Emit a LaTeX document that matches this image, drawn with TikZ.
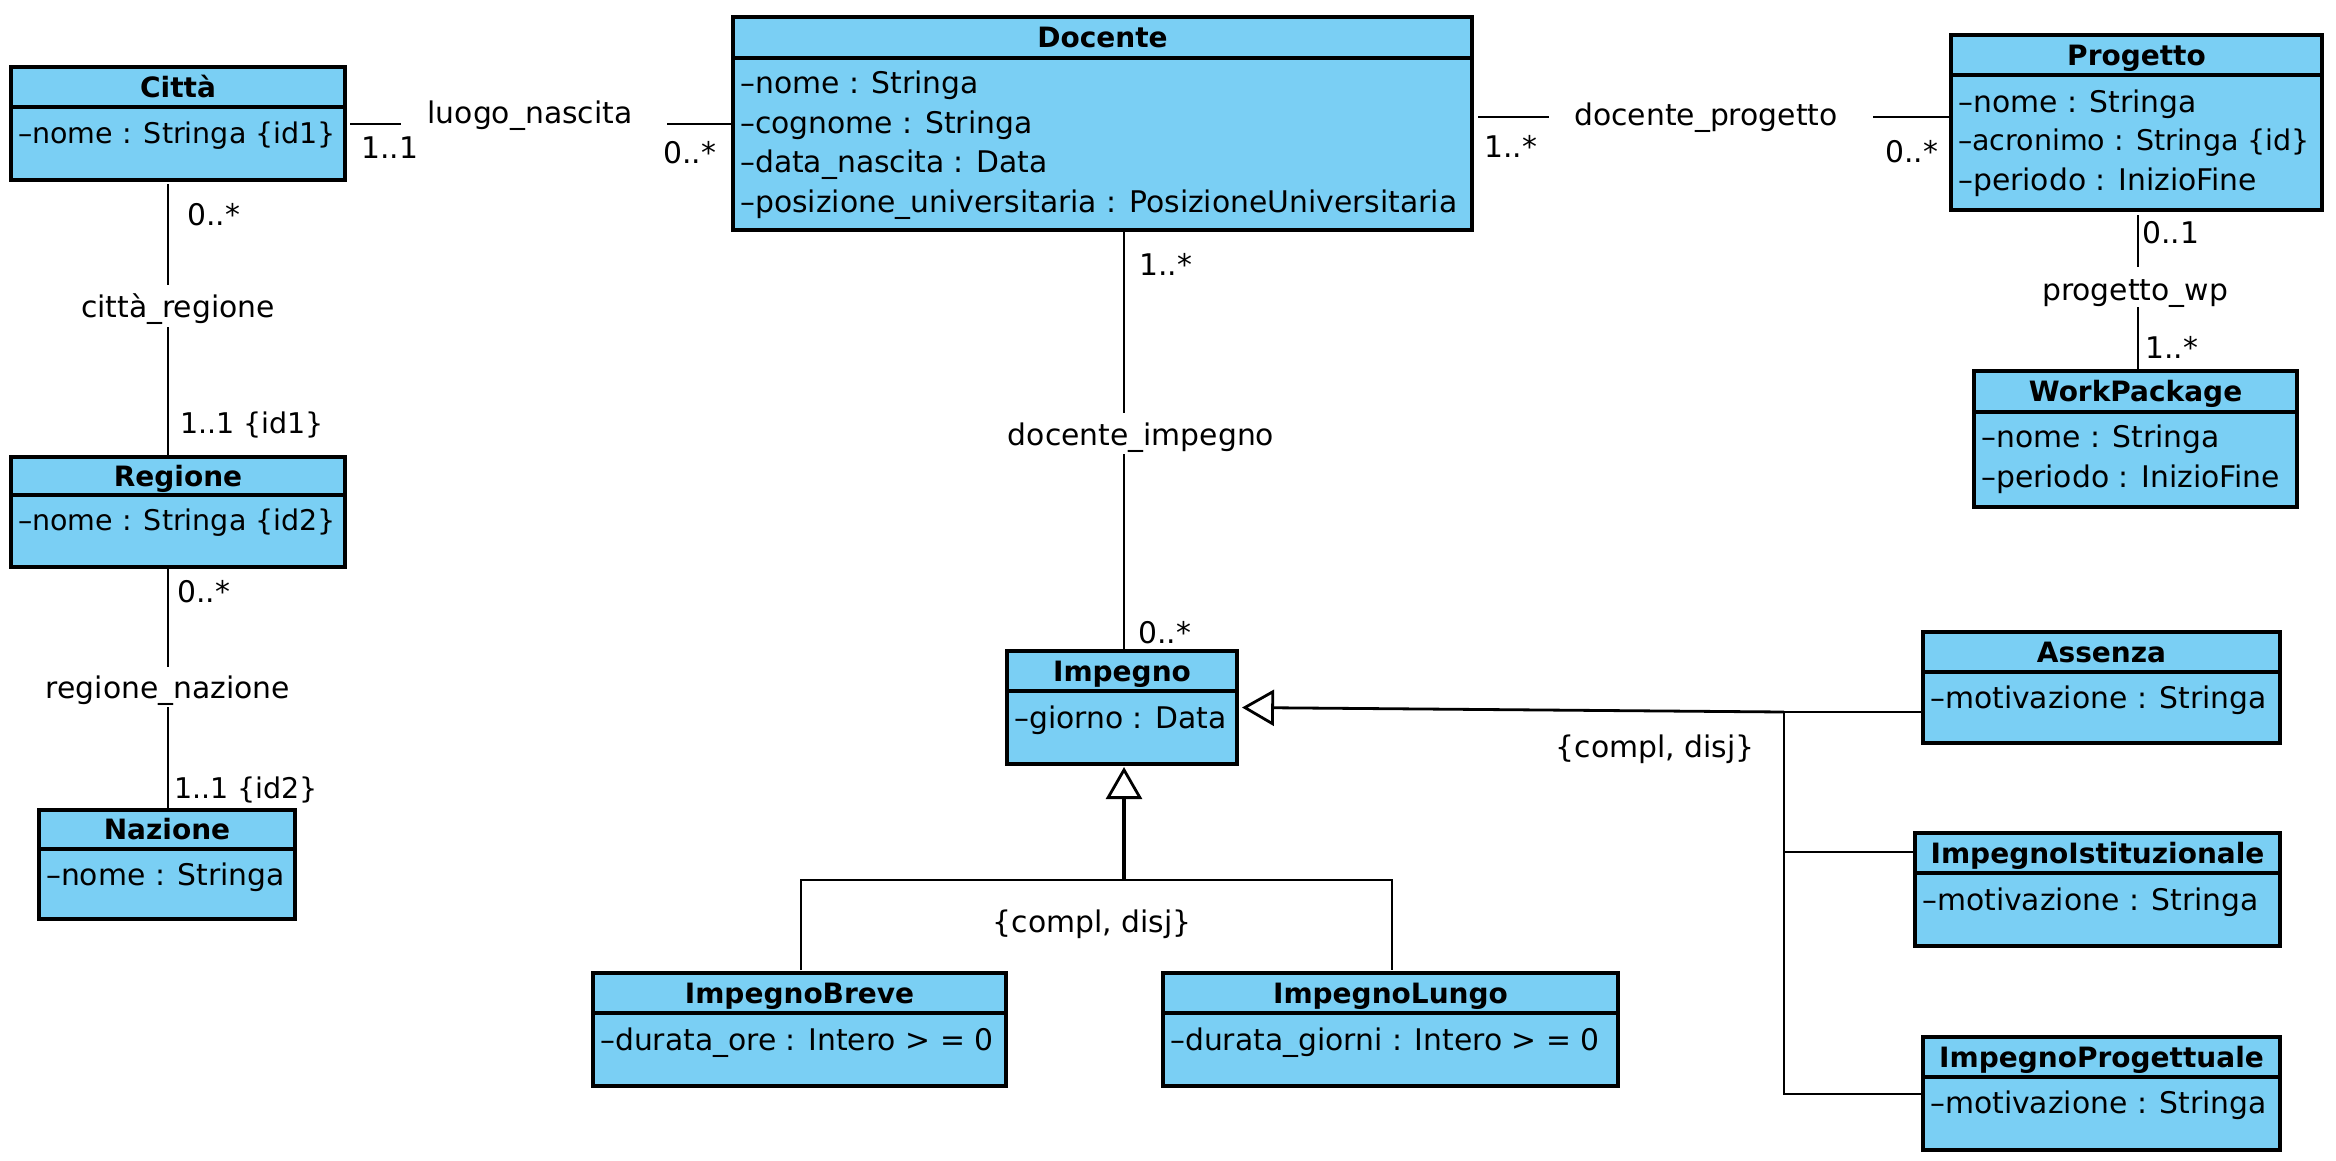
\documentclass[tikz,border=0pt]{standalone}
\usepackage{fontspec}
\setmainfont{DejaVu Sans}
\usetikzlibrary{arrows.meta,calc}

\definecolor{umlblue}{RGB}{122,207,244}
\newcommand{\attrfont}{\fontsize{29.8pt}{35pt}\selectfont}
\newcommand{\tightfont}{\fontsize{28.5pt}{34pt}\selectfont}
\newcommand{\titlefont}{\fontsize{28pt}{34pt}\selectfont\bfseries}

\tikzset{
  classframe/.style={draw, line width=3.2pt, fill=umlblue, rectangle, inner sep=0pt, outer sep=0pt},
  dividerline/.style={line width=3.2pt},
  classtitle/.style={font=\titlefont, inner sep=0pt, anchor=base},
  attrtext/.style={font=\attrfont, inner sep=0pt, anchor=base west},
  assoclabel/.style={font=\attrfont, inner sep=0pt, anchor=base},
  mult/.style={font=\attrfont, inner sep=0pt, anchor=base west},
  tight/.style={font=\tightfont},
  assoc/.style={line width=2.8pt},
  genline/.style={line width=2.8pt},
  genstem/.style={line width=4.2pt},
  gentip/.style={-{Triangle[open, length=32pt, width=36pt, line width=2.8pt]}}
}

% class box: name, left, top, right, bottom, divider, title
\newcommand{\umlclass}[7]{%
  \pgfmathsetmacro{\cw}{#4-#2}%
  \pgfmathsetmacro{\ch}{#5-#3}%
  \xdef\curleft{#2}%
  \node[classframe, minimum width=\cw pt, minimum height=\ch pt, anchor=north west] (#1) at (#2,#3) {};%
  \draw[dividerline] (#2,#6) -- (#4,#6);%
  \node[classtitle] (#1-title) at ({(#2+#4)/2},{(#3+#6)/2+10}) {#7};%
}
% attribute line: options, node name, vertical centre, text
\newcommand{\umlattr}[4][]{%
  \node[attrtext,#1] (#2) at ({\curleft+7},{#3+10}) {#4};%
}

\begin{document}
\begin{tikzpicture}[x=1pt,y=-1pt]
\fill[white] (0,0) rectangle (2336,1160);
\useasboundingbox (0,0) rectangle (2336,1160);

% ---------- classes ----------
\umlclass{citta}{11}{67}{345}{180}{107}{Città}
\umlattr[tight]{citta-a1}{133}{–nome : Stringa \{id1\}}

\umlclass{regione}{11}{457}{345}{567}{495}{Regione}
\umlattr[tight]{regione-a1}{520}{–nome : Stringa \{id2\}}

\umlclass{nazione}{39}{810}{295}{919}{849}{Nazione}
\umlattr{nazione-a1}{875}{–nome : Stringa}

\umlclass{docente}{733}{17}{1472}{230}{58}{Docente}
\umlattr{docente-a1}{83}{–nome : Stringa}
\umlattr{docente-a2}{123}{–cognome : Stringa}
\umlattr{docente-a3}{162}{–data\_nascita : Data}
\umlattr{docente-a4}{202}{–posizione\_universitaria : PosizioneUniversitaria}

\umlclass{progetto}{1951}{35}{2322}{210}{75}{Progetto}
\umlattr{progetto-a1}{102}{–nome : Stringa}
\umlattr[tight]{progetto-a2}{140}{–acronimo : Stringa \{id\}}
\umlattr{progetto-a3}{180}{–periodo : InizioFine}

\umlclass{wp}{1974}{371}{2297}{507}{412}{WorkPackage}
\umlattr{wp-a1}{437}{–nome : Stringa}
\umlattr{wp-a2}{477}{–periodo : InizioFine}

\umlclass{impegno}{1007}{651}{1237}{764}{691}{Impegno}
\umlattr{impegno-a1}{718}{–giorno : Data}

\umlclass{breve}{593}{973}{1006}{1086}{1013}{ImpegnoBreve}
\umlattr{breve-a1}{1040}{–durata\_ore : Intero > = 0}

\umlclass{lungo}{1163}{973}{1618}{1086}{1013}{ImpegnoLungo}
\umlattr{lungo-a1}{1040}{–durata\_giorni : Intero > = 0}

\umlclass{assenza}{1923}{632}{2280}{743}{672}{Assenza}
\umlattr{assenza-a1}{698}{–motivazione : Stringa}

\umlclass{impist}{1915}{833}{2280}{946}{873}{ImpegnoIstituzionale}
\umlattr{impist-a1}{900}{–motivazione : Stringa}

\umlclass{impprog}{1923}{1037}{2280}{1150}{1077}{ImpegnoProgettuale}
\umlattr{impprog-a1}{1103}{–motivazione : Stringa}

% ---------- associations ----------
% luogo_nascita
\coordinate (ln-a) at (401,124);
\coordinate (ln-b) at (667,124);
\node[assoclabel] (ln) at (530,123) {luogo\_nascita};
\draw[assoc, shorten <=5pt] (citta.east |- ln-a) -- (ln-a);
\draw[assoc] (ln-b) -- (docente.west |- ln-b);
\node[mult] (ln-m1) at (361,158) {1..1};
\node[mult] (ln-m2) at (663,163) {0..*};

% docente_progetto
\coordinate (dp-a) at (1549,117);
\coordinate (dp-b) at (1873,117);
\node[assoclabel] (dp) at (1706,125) {docente\_progetto};
\draw[assoc, shorten <=6pt] (docente.east |- dp-a) -- (dp-a);
\draw[assoc] (dp-b) -- (progetto.west |- dp-b);
\node[mult] (dp-m1) at (1484,157) {1..*};
\node[mult] (dp-m2) at (1885,162) {0..*};

% citta_regione
\coordinate (cr-a) at (168,285);
\coordinate (cr-b) at (168,327);
\node[assoclabel] (cr) at (178,317) {città\_regione};
\draw[assoc, shorten <=4pt] (citta.south -| cr-a) -- (cr-a);
\draw[assoc] (cr-b) -- (regione.north -| cr-b);
\node[mult] (cr-m1) at (187,225) {0..*};
\node[mult, tight] (cr-m2) at (180,433) {1..1 \{id1\}};

% regione_nazione
\coordinate (rn-a) at (168,667);
\coordinate (rn-b) at (168,707);
\node[assoclabel] (rn) at (168,698) {regione\_nazione};
\draw[assoc, shorten <=2pt] (regione.south -| rn-a) -- (rn-a);
\draw[assoc] (rn-b) -- (nazione.north -| rn-b);
\node[mult] (rn-m1) at (177,602) {0..*};
\node[mult, tight] (rn-m2) at (174,798) {1..1 \{id2\}};

% docente_impegno
\coordinate (di-a) at (1124,413);
\coordinate (di-b) at (1124,454);
\node[assoclabel] (di) at (1141,445) {docente\_impegno};
\draw[assoc, shorten <=2pt] (docente.south -| di-a) -- (di-a);
\draw[assoc] (di-b) -- (impegno.north -| di-b);
\node[mult] (di-m1) at (1139,275) {1..*};
\node[mult] (di-m2) at (1138,643) {0..*};

% progetto_wp
\coordinate (pw-a) at (2138,267);
\coordinate (pw-b) at (2138,307);
\node[assoclabel] (pw) at (2135,300) {progetto\_wp};
\draw[assoc, shorten <=5pt] (progetto.south -| pw-a) -- (pw-a);
\draw[assoc] (pw-b) -- (wp.north -| pw-b);
\node[mult] (pw-m1) at (2142,243) {0..1};
\node[mult] (pw-m2) at (2145,358) {1..*};

% ---------- generalisations ----------
% Impegno <- Assenza, ImpegnoIstituzionale, ImpegnoProgettuale
\coordinate (gr-j) at (1784,712);
\coordinate (gr-i) at (1784,852);
\coordinate (gr-k) at (1784,1094);
\draw[genline, gentip] (gr-j) -- ($(impegno.east)+(5,0)$);
\draw[genline] (gr-j) -- (assenza.west |- gr-j);
\draw[genline] (gr-i) -- (impist.west |- gr-i);
\draw[genline] (gr-j) -- (gr-k) -- (impprog.west |- gr-k);
\node[assoclabel] (gr-lab) at (1655,757) {\{compl, disj\}};

% Impegno <- ImpegnoBreve, ImpegnoLungo
\coordinate (gb-j) at (1124,880);
\coordinate (gb-tip) at (1124,767);
\coordinate (gb-l) at (801,880);
\coordinate (gb-r) at (1392,880);
\draw[genstem, gentip] (gb-j) -- (gb-tip);
\draw[genline, shorten <=3pt, shorten >=3pt] (breve.north -| gb-l) -- (gb-l) -- (gb-r) -- (lungo.north -| gb-r);
\node[assoclabel] (gb-lab) at (1092,932) {\{compl, disj\}};
\end{tikzpicture}
\end{document}
